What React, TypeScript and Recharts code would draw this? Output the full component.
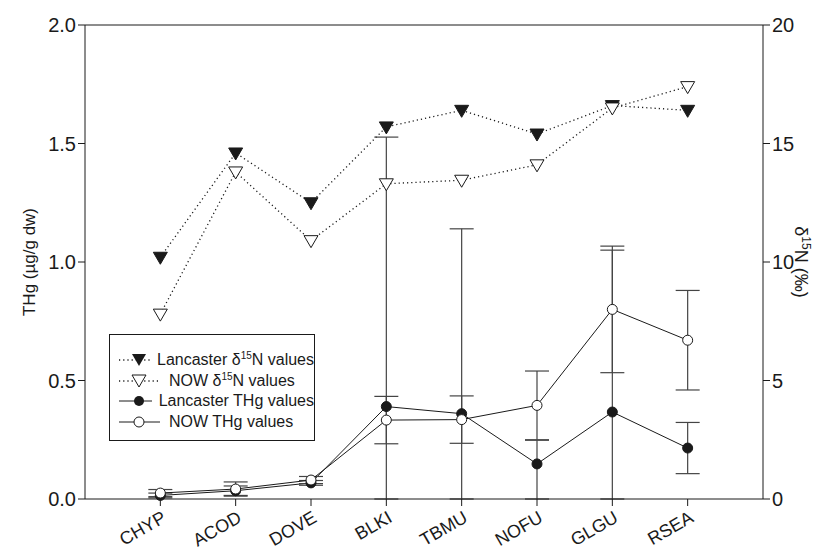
import { ComposedChart, Line, XAxis, YAxis, ErrorBar, ReferenceLine } from 'recharts';

const categories = ['CHYP', 'ACOD', 'DOVE', 'BLKI', 'TBMU', 'NOFU', 'GLGU', 'RSEA'];
const lancasterN = [10.2, 14.6, 12.5, 15.7, 16.4, 15.4, 16.6, 16.4];
const nowN = [7.8, 13.8, 10.9, 13.3, 13.45, 14.1, 16.5, 17.4];
const lancasterTHg = [0.015, 0.035, 0.068, 0.39, 0.36, 0.148, 0.367, 0.215];
// [down, up]
const lancasterErr = [[0.01, 0.01], [0.02, 0.02], [0.01, 0.01], [0.39, 1.137], [0.36, 0.78], [0.148, 0.1], [0.367, 0.683], [0.108, 0.108]];
const nowTHg = [0.025, 0.042, 0.08, 0.333, 0.335, 0.395, 0.8, 0.67];
const nowErr = [0.015, 0.03, 0.015, 0.1, 0.1, 0.145, 0.267, 0.21];
const leftTicks = [0, 0.5, 1, 1.5, 2];
const rightTicks = [0, 5, 10, 15, 20];

const data = categories.map((name, i) => ({
  pos: i + 1,
  name,
  lanN: lancasterN[i],
  nowN: nowN[i],
  lanHg: lancasterTHg[i],
  lanErr: lancasterErr[i],
  nowHg: nowTHg[i],
  nowErr: nowErr[i],
}));

const FONT = '"Liberation Sans", Arial, sans-serif';
const INK = '#1a1a1a';

const Tri = ({ cx, cy, filled }: any) => {
  if (cx == null || cy == null) return null;
  return (
    <polygon
      points={`${cx - 7},${cy - 5} ${cx + 7},${cy - 5} ${cx},${cy + 7}`}
      fill={filled ? INK : '#fff'}
      stroke={INK}
      strokeWidth={1}
    />
  );
};

const XTick = ({ x, y, payload }: any) => {
  const tx = x + 7;
  const ty = y + 13;
  return (
    <text x={tx} y={ty} textAnchor="end" fontSize={18} fontFamily={FONT} fill={INK}
      transform={`rotate(-30, ${tx}, ${ty})`}>
      {categories[payload.value - 1]}
    </text>
  );
};

const LegendIcon = ({ kind }: { kind: string }) => {
  const dotted = kind === 'lanN' || kind === 'nowN';
  return (
    <svg width={44} height={14} style={{ display: 'block' }}>
      <line x1={1} y1={7} x2={42} y2={7} stroke={INK} strokeWidth={dotted ? 1.3 : 1}
        strokeDasharray={dotted ? '1.2 3' : undefined} />
      {kind === 'lanN' && <polygon points="14,1 28,1 21,13" fill={INK} />}
      {kind === 'nowN' && <polygon points="14,1 28,1 21,13" fill="#fff" stroke={INK} />}
      {kind === 'lanHg' && <circle cx={21} cy={7} r={5} fill={INK} />}
      {kind === 'nowHg' && <circle cx={21} cy={7} r={5} fill="#fff" stroke={INK} />}
    </svg>
  );
};

const sup = { fontSize: 10, verticalAlign: 'super', lineHeight: 0 } as const;

const legendRows = [
  { kind: 'lanN', label: <>Lancaster δ<span style={sup}>15</span>N values</> },
  { kind: 'nowN', label: <>NOW δ<span style={sup}>15</span>N values</> },
  { kind: 'lanHg', label: <>Lancaster THg values</> },
  { kind: 'nowHg', label: <>NOW THg values</> },
];

const LegendBox = () => (
  <div style={{
    position: 'absolute', left: 109, top: 334,
    border: `1px solid ${INK}`, width: 206, height: 107, boxSizing: 'border-box',
    padding: '15px 0 0 8px', fontFamily: FONT, fontSize: 16, color: INK, background: '#fff',
    whiteSpace: 'nowrap',
  }}>
    {legendRows.map((r) => (
      <div key={r.kind} style={{ display: 'flex', alignItems: 'center', height: 20.5, lineHeight: '16px' }}>
        <LegendIcon kind={r.kind} />
        <span style={{ marginLeft: 7 }}>{r.label}</span>
      </div>
    ))}
  </div>
);

const LeftLabel = () => (
  <text x={35} y={262} textAnchor="middle" fontSize={17} fontFamily={FONT} fill={INK}
    transform="rotate(-90, 35, 262)">
    THg (µg/g dw)
  </text>
);

const RightLabel = () => (
  <text x={795} y={262} textAnchor="middle" fontSize={18} fontFamily={FONT} fill={INK}
    transform="rotate(90, 795, 262)">
    δ<tspan dy={-7} fontSize={12}>15</tspan><tspan dy={7}>N (‰)</tspan>
  </text>
);

export default function App() {
  return (
    <div style={{ position: 'absolute', left: 0, top: 0, width: 837, height: 551, background: '#fff' }}>
      <ComposedChart width={837} height={551} data={data}
        margin={{ top: 25, right: 14, bottom: 0, left: 25 }}>
        <XAxis dataKey="pos" type="number" domain={[0, 9]} ticks={[1, 2, 3, 4, 5, 6, 7, 8]}
          interval={0} height={52} tickSize={7} tickMargin={2} tick={<XTick />}
          stroke={INK} />
        <YAxis yAxisId="left" domain={[0, 2]} ticks={leftTicks} width={60} tickSize={7}
          tickFormatter={(v: number) => v.toFixed(1)} stroke={INK}
          tick={{ fontSize: 20, fontFamily: FONT, fill: INK }} label={<LeftLabel />} />
        <YAxis yAxisId="right" orientation="right" domain={[0, 20]} ticks={rightTicks} width={60}
          tickSize={7} stroke={INK} tick={{ fontSize: 20, fontFamily: FONT, fill: INK }}
          label={<RightLabel />} />
        <ReferenceLine yAxisId="left" y={2} stroke={INK} />
        <Line yAxisId="right" dataKey="lanN" stroke={INK} strokeWidth={1.3} strokeDasharray="1.2 3"
          dot={<Tri filled />} activeDot={false} isAnimationActive={false} />
        <Line yAxisId="right" dataKey="nowN" stroke={INK} strokeWidth={1.3} strokeDasharray="1.2 3"
          dot={<Tri />} activeDot={false} isAnimationActive={false} />
        <Line yAxisId="left" dataKey="lanHg" stroke={INK} strokeWidth={1}
          dot={{ r: 5, fill: INK, stroke: INK, strokeWidth: 1 }} activeDot={false} isAnimationActive={false}>
          <ErrorBar dataKey="lanErr" direction="y" width={12} stroke="#444" strokeWidth={1.2} />
        </Line>
        <Line yAxisId="left" dataKey="nowHg" stroke={INK} strokeWidth={1}
          dot={{ r: 5, fill: '#fff', stroke: INK, strokeWidth: 1 }} activeDot={false} isAnimationActive={false}>
          <ErrorBar dataKey="nowErr" direction="y" width={12} stroke="#444" strokeWidth={1.2} />
        </Line>
      </ComposedChart>
      <LegendBox />
    </div>
  );
}
